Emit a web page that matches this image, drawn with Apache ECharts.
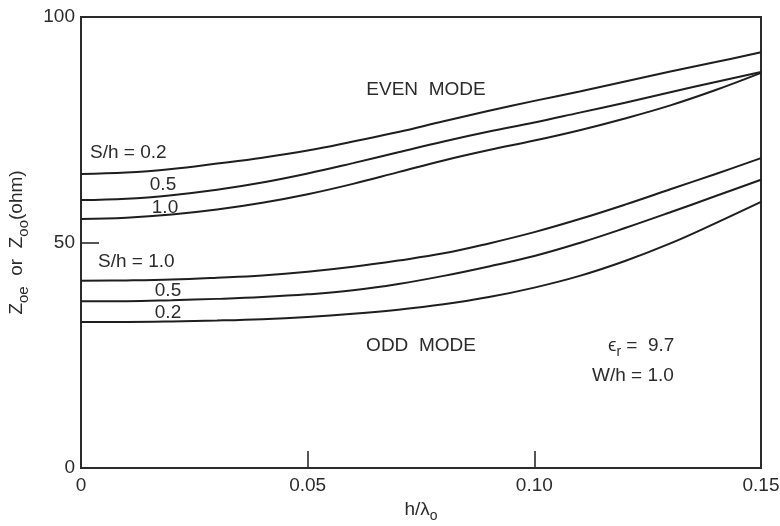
<!DOCTYPE html>
<html><head><meta charset="utf-8">
<script src="https://cdn.jsdelivr.net/npm/echarts@6/dist/echarts.min.js"></script>
<style>html,body{margin:0;padding:0;background:#fff}#c{width:780px;height:526px}</style>
</head><body><div id="c"></div>
<script>
// h/lambda_o sample positions
const hLambda = [0,0.01,0.02,0.03,0.04,0.05,0.06,0.07,0.08,0.09,0.10,0.11,0.12,0.13,0.14,0.15];
// Even mode impedance (ohm)
const evenS02 = [65.2,65.5,66.3,67.5,68.8,70.4,72.4,74.5,76.9,79.2,81.4,83.5,85.7,87.9,90.0,92.2];
const evenS05 = [59.4,59.7,60.5,61.7,63.3,65.3,67.6,70.0,72.4,74.6,76.6,78.8,81.0,83.3,85.6,87.8];
const evenS10 = [55.2,55.5,56.2,57.3,58.8,60.7,63.0,65.6,68.2,70.5,72.6,74.9,77.5,80.4,83.8,87.6];
// Odd mode impedance (ohm)
const oddS10 = [41.5,41.6,41.8,42.2,42.7,43.5,44.6,46.0,47.6,49.8,52.3,55.2,58.4,61.8,65.2,68.7];
const oddS05 = [37.0,37.0,37.2,37.5,37.9,38.5,39.4,40.8,42.6,44.7,47.0,49.9,53.2,56.7,60.3,63.9];
const oddS02 = [32.4,32.4,32.5,32.7,33.0,33.5,34.2,35.1,36.3,37.9,40.0,42.6,45.9,49.8,54.3,59.0];
const xTicks = [0,0.05,0.10,0.15];
const yTicks = [0,50,100];

const curves = [evenS02, evenS05, evenS10, oddS10, oddS05, oddS02];
const INK = '#2b2b2b';
const FONT = 'Liberation Sans';
const FS = 19;

const chart = echarts.init(document.getElementById('c'), null, {renderer:'canvas'});

function txt(x, y, text, opts) {
  return {
    type:'text', x:x, y:y,
    style: Object.assign({text:text, fill:INK, font:FS+'px "'+FONT+'"', textVerticalAlign:'middle'}, opts||{})
  };
}

chart.setOption({
  animation:false,
  backgroundColor:'#fff',
  grid:{left:81, right:19, top:17, bottom:58, outerBoundsMode:'none', containLabel:false,
        show:true, borderColor:INK, borderWidth:2, backgroundColor:'transparent'},
  xAxis:{
    type:'value', min:0, max:0.15, interval:0.05,
    axisLine:{show:true, lineStyle:{color:INK, width:2}},
    axisTick:{show:true, inside:true, length:17, lineStyle:{color:INK, width:1.6}},
    splitLine:{show:false},
    axisLabel:{color:INK, fontSize:FS, fontFamily:FONT, margin:8,
      formatter:v => (Math.abs(v)<1e-9 ? '0' : v.toFixed(2))},
    name:'{n|h/λ}{s|o}', nameLocation:'middle', nameGap:29,
    nameTextStyle:{rich:{n:{fontSize:FS, fontFamily:FONT, color:INK, lineHeight:26, verticalAlign:'middle'},
                         s:{fontSize:14, fontFamily:FONT, color:INK, lineHeight:26, verticalAlign:'bottom'}}}
  },
  yAxis:{
    type:'value', min:0, max:100, interval:50,
    axisLine:{show:true, lineStyle:{color:INK, width:2}},
    axisTick:{show:true, inside:true, length:18, lineStyle:{color:INK, width:1.6}},
    splitLine:{show:false},
    axisLabel:{color:INK, fontSize:FS, fontFamily:FONT, margin:6},
    name:'{n|Z}{s|oe}{n|  or  Z}{s|oo}{n|(ohm)}', nameLocation:'middle', nameRotate:90, nameGap:50,
    nameTextStyle:{rich:{n:{fontSize:FS, fontFamily:FONT, color:INK, lineHeight:28, verticalAlign:'middle'},
                         s:{fontSize:15, fontFamily:FONT, color:INK, lineHeight:28, verticalAlign:'bottom'}}}
  },
  series: curves.map(arr => ({
    type:'line', smooth:0.4, symbol:'none',
    lineStyle:{color:'#1e1e1e', width:2},
    data: hLambda.map((x,i) => [x, arr[i]])
  })),
  graphic:[
    txt(90,153,'S/h = 0.2'),
    txt(163,185,'0.5',{textAlign:'center'}),
    txt(165,208,'1.0',{textAlign:'center'}),
    txt(98,262,'S/h = 1.0'),
    txt(168,291,'0.5',{textAlign:'center'}),
    txt(168,313,'0.2',{textAlign:'center'}),
    txt(426,90,'EVEN  MODE',{textAlign:'center'}),
    txt(421,346,'ODD  MODE',{textAlign:'center'}),
    {type:'text', x:608, y:346, style:{
      text:'{n|ϵ}{s|r}{n| =  9.7}', textVerticalAlign:'middle',
      rich:{n:{fontSize:FS, fontFamily:FONT, fill:INK, lineHeight:26, verticalAlign:'middle'},
            s:{fontSize:14, fontFamily:FONT, fill:INK, lineHeight:26, verticalAlign:'bottom'}}}},
    txt(592,376,'W/h = 1.0')
  ]
});
</script></body></html>
